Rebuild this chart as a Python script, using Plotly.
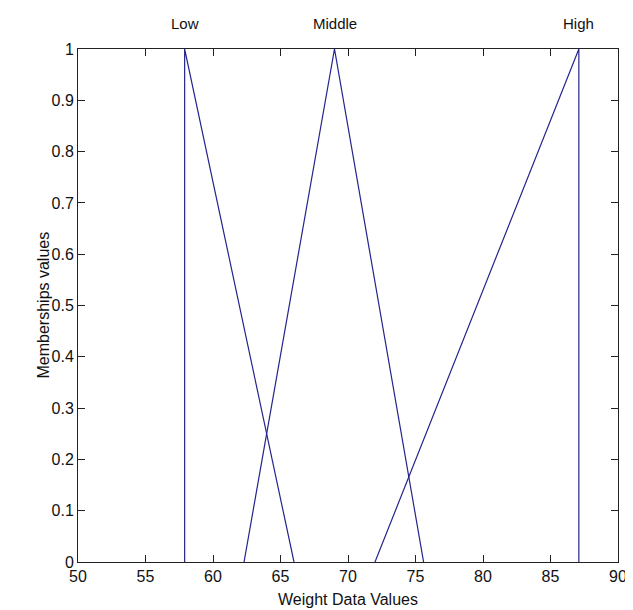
import plotly.graph_objects as go

# Membership function vertices (x) and memberships (y)
low_x = [57.9, 57.9, 66.0]
low_y = [0, 1, 0]
mid_x = [62.3, 69.0, 75.6]
mid_y = [0, 1, 0]
high_x = [72.0, 87.1, 87.1]
high_y = [0, 1, 0]

mf_names = ["Low", "Middle", "High"]
mf_peaks = [57.9, 69.0, 87.1]

x_ticks = [50, 55, 60, 65, 70, 75, 80, 85, 90]
y_ticks = [0, 0.1, 0.2, 0.3, 0.4, 0.5, 0.6, 0.7, 0.8, 0.9, 1]
y_tick_labels = ["0", "0.1", "0.2", "0.3", "0.4", "0.5", "0.6", "0.7", "0.8", "0.9", "1"]

LINE = "#24248c"
FONT = "Liberation Sans, Arial, sans-serif"

fig = go.Figure()
for xs, ys in [(low_x, low_y), (mid_x, mid_y), (high_x, high_y)]:
    fig.add_trace(go.Scatter(x=xs, y=ys, mode="lines",
                             line=dict(color=LINE, width=1.2),
                             showlegend=False, hoverinfo="skip"))

for name, px in zip(mf_names, mf_peaks):
    fig.add_annotation(x=px, y=1, xref="x", yref="y", text=name,
                       showarrow=False, yanchor="bottom", yshift=15,
                       font=dict(family=FONT, size=15, color="#111"))

# y-axis title as rotated annotation so it can sit closer to the axis
fig.add_annotation(x=0, y=0.5, xref="paper", yref="paper",
                   text="Memberships values", textangle=-90,
                   showarrow=False, xanchor="center", yanchor="middle", xshift=-35,
                   font=dict(family=FONT, size=16, color="#111"))

axis_common = dict(showline=True, linecolor="#222", linewidth=1, mirror="ticks",
                   ticks="inside", ticklen=7, tickcolor="#222", tickwidth=1,
                   showgrid=False, zeroline=False,
                   tickfont=dict(family=FONT, size=16, color="#111"))

fig.update_xaxes(range=[50, 90], tickvals=x_ticks,
                 title=dict(text="Weight Data Values", standoff=9,
                            font=dict(family=FONT, size=16, color="#111")),
                 **axis_common)
fig.update_yaxes(range=[0, 1], tickvals=y_ticks, ticktext=y_tick_labels,
                 **axis_common)

fig.update_layout(width=633, height=610,
                  margin=dict(l=70, r=23, t=41, b=56),
                  plot_bgcolor="white", paper_bgcolor="white")

fig.write_html("out.html")
